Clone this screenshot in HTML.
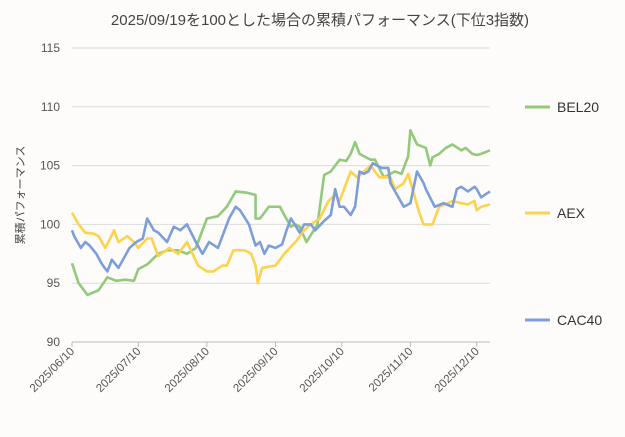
<!DOCTYPE html>
<html><head><meta charset="utf-8"><style>
body{margin:0;background:#fdfcfb;}
svg{font-family:"Liberation Sans","Noto Sans CJK JP",sans-serif;}
</style></head><body>
<svg id="c" width="625" height="432"></svg>
<script>
const yTicks=[90,95,100,105,110,115];
const xTickLabels=["2025/06/10","2025/07/10","2025/08/10","2025/09/10","2025/10/10","2025/11/10","2025/12/10"];
const xTickDays=[0,30,61,92,122,153,183];
const belDays=[0,3,7,12,16,20,24,28,30,34,39,43,48,52,56,61,66,70,74,79,83,83,85,89,94,96,99,101,103,106,111,114,117,119,121,124,126,128,130,135,137,141,146,149,152,153,156,160,162,163,166,169,172,176,178,181,183,185,189];
const belVals=[96.7,95,94,94.4,95.5,95.2,95.3,95.2,96.2,96.6,97.5,97.8,97.8,97.5,98,100.5,100.7,101.5,102.8,102.7,102.5,100.5,100.5,101.5,101.5,100.8,99.8,100,99.8,98.5,100,104.2,104.5,105,105.5,105.4,106,107,106,105.5,105.5,104,104.5,104.3,105.8,108,106.8,106.5,105,105.7,106,106.5,106.8,106.3,106.5,106,105.9,106,106.3];
const aexDays=[0,3,6,10,12,15,17,19,21,25,28,30,34,36,39,44,48,52,55,57,61,64,68,70,73,78,81,83,84,86,92,96,101,105,108,112,116,119,121,124,126,129,135,139,144,146,150,152,157,159,163,166,170,172,176,179,182,183,185,189];
const aexVals=[101,100,99.3,99.2,99,98,98.7,99.5,98.5,99,98.5,98,98.8,98.8,97.3,98,97.5,98.5,97.3,96.5,96,96,96.5,96.5,97.8,97.8,97.5,96.5,95,96.3,96.5,97.5,98.5,99.5,100,100.5,102,102.5,102,103.5,104.5,104,105,104,104,103,103.5,104.3,101,100,100,101.5,101.8,102,101.8,101.7,102,101.2,101.5,101.7];
const cacDays=[0,1,4,6,8,11,13,14,16,18,21,26,29,32,34,37,39,43,46,49,52,56,59,62,66,70,71,74,76,80,83,85,87,89,92,95,97,99,103,105,108,110,114,117,119,121,123,126,128,130,132,134,136,140,143,144,147,150,153,156,159,160,164,168,172,174,176,179,182,183,185,189];
const cacVals=[99.5,99,98,98.5,98.2,97.5,96.8,96.5,96,97,96.3,98,98.5,98.8,100.5,99.5,99.3,98.5,99.8,99.5,100,98.5,97.5,98.5,98,100,100.5,101.5,101.2,100,98.2,98.5,97.5,98.2,98,98.3,99.5,100.5,99.3,100,100,99.5,100.3,100.8,103,101.5,101.5,100.8,101.5,104.5,104.3,104.5,105.2,104.8,104.8,103.5,102.5,101.5,101.8,104.5,103.5,103,101.5,101.8,101.5,103,103.2,102.8,103.2,103,102.3,102.8,103.5];
const series=[
 {name:"BEL20",days:belDays,vals:belVals,color:"#93c97b",ly:107},
 {name:"AEX",days:aexDays,vals:aexVals,color:"#fdd24e",ly:213},
 {name:"CAC40",days:cacDays,vals:cacVals,color:"#7d9ed8",ly:320}];
const svg=document.getElementById('c');
const NS="http://www.w3.org/2000/svg";
const X0=72,X1=490,Y0=342,Y1=48;
const xs=d=>X0+d*(X1-X0)/189;
const ys=v=>Y0-(v-90)*(Y0-Y1)/25;
function mk(t,a){const e=document.createElementNS(NS,t);for(const k in a)e.setAttribute(k,a[k]);svg.appendChild(e);return e;}
let t=mk('text',{x:320,y:25,'text-anchor':'middle','font-size':15,fill:'#444'});


t.textContent="2025/09/19を100とした場合の累積パフォーマンス(下位3指数)";
yTicks.forEach(v=>{
 const g=mk('line',{x1:X0,x2:X1,y1:ys(v),y2:ys(v),stroke:'#dcdcdc','stroke-width':1});
 
 
 const l=mk('text',{x:60,y:ys(v)+4,'text-anchor':'end','font-size':12,fill:'#555'});
 
 
 l.textContent=v;
});
let ax=mk('line',{x1:X0,x2:X1,y1:Y0,y2:Y0,stroke:'#bbb'});


xTickDays.forEach((d,i)=>{
 const x=xs(d);
 const tk=mk('line',{x1:x,x2:x,y1:Y0,y2:Y0+5,stroke:'#bbb'});
 
 
 const l=mk('text',{x:x+3,y:Y0+10,'text-anchor':'end','font-size':11.5,fill:'#555',transform:`rotate(-45 ${x+3} ${Y0+10})`});
 
 
 l.textContent=xTickLabels[i];
});
let yt=mk('text',{x:24,y:195,'text-anchor':'middle','font-size':11,fill:'#444',transform:'rotate(-90 24 195)'});


yt.textContent="累積パフォーマンス";
series.forEach(s=>{
 const p=mk('polyline',{points:s.days.map((d,i)=>xs(d)+','+ys(s.vals[i])).join(' '),fill:'none',stroke:s.color,'stroke-width':2.6,'stroke-linejoin':'round'});
 
 
 const ll=mk('line',{x1:525,x2:550,y1:s.ly,y2:s.ly,stroke:s.color,'stroke-width':3});
 
 
 const lt=mk('text',{x:557,y:s.ly+5,'font-size':14,fill:'#333'});
 
 
 lt.textContent=s.name;
});
</script>
</body></html>
